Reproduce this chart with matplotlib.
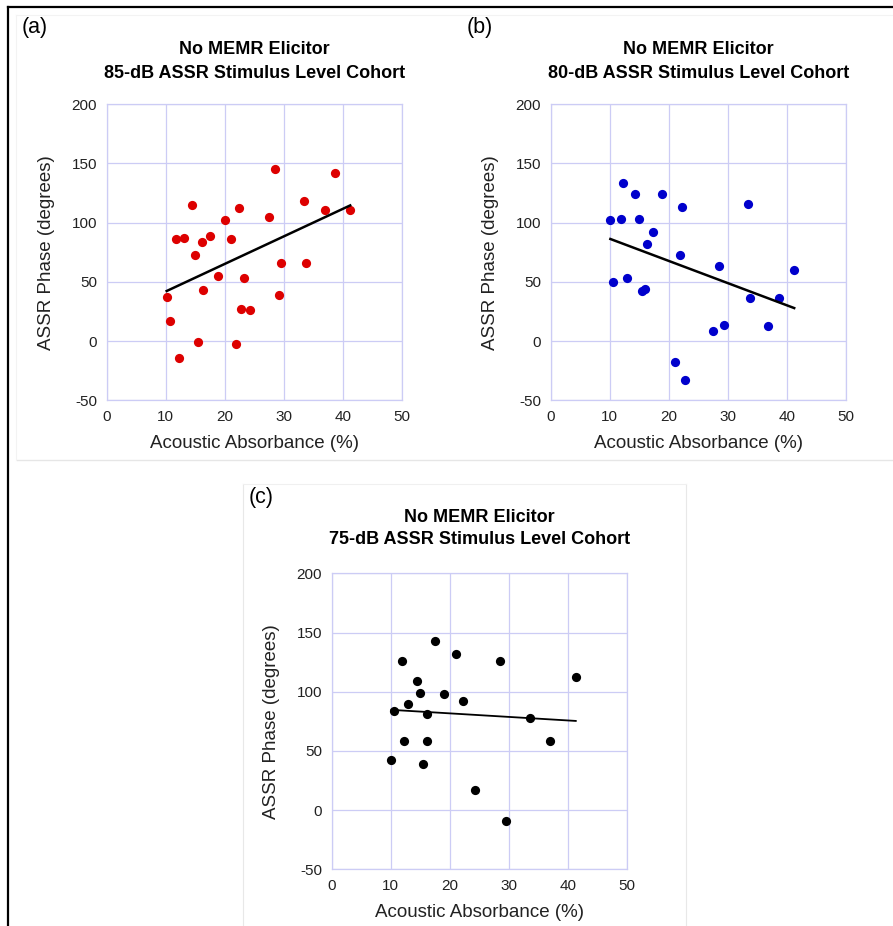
import numpy as np
import matplotlib
matplotlib.use("Agg")
import matplotlib.pyplot as plt
from matplotlib.lines import Line2D

plt.rcParams['font.family'] = ['Liberation Sans', 'DejaVu Sans']
plt.rcParams['axes.unicode_minus'] = False

# Panel (a): 85-dB cohort
a_x = [10.15, 10.65, 12.2, 11.8, 13.0, 14.4, 14.9, 15.4, 16.1, 16.3, 17.4, 18.9, 20.1, 21.1,
       21.8, 22.4, 22.8, 23.2, 24.2, 27.5, 28.5, 29.1, 29.5, 33.4, 33.7, 36.9, 38.6, 41.2]
a_y = [37.2, 17.2, -14.1, 86.2, 87.0, 115.2, 73.0, -0.8, 83.9, 43.1, 89.0, 55.2, 102.0, 86.2,
       -2.8, 112.1, 27.0, 53.2, 25.9, 105.1, 145.1, 39.2, 66.2, 118.3, 66.2, 110.4, 142.0, 110.4]

# Panel (b): 80-dB cohort
b_x = [10.1, 10.6, 12.2, 11.9, 12.9, 14.2, 14.9, 15.4, 16.0, 16.3, 17.3, 18.9, 21.1, 21.8,
       22.3, 22.8, 27.4, 28.4, 29.4, 33.4, 33.7, 36.8, 38.6, 41.2]
b_y = [102.0, 50.1, 133.2, 103.1, 53.2, 124.2, 103.1, 42.0, 44.2, 82.0, 92.1, 124.2, -17.7, 73.0,
       113.0, -32.7, 8.2, 63.1, 13.2, 116.1, 36.3, 12.4, 36.3, 60.3]

# Panel (c): 75-dB cohort
c_x = [10.1, 10.6, 11.9, 12.3, 12.9, 14.4, 14.9, 15.4, 16.1, 16.2, 17.4, 19.0, 21.1, 22.3,
       24.2, 28.5, 29.5, 33.5, 36.9, 41.3]
c_y = [42.0, 83.7, 125.9, 58.6, 89.9, 109.0, 98.9, 38.9, 80.8, 58.6, 142.8, 97.7, 131.5, 91.8,
       16.6, 125.9, -9.6, 77.7, 58.6, 112.1]

x_ticks = [0, 10, 20, 30, 40, 50]
y_ticks = [-50, 0, 50, 100, 150, 200]
title_line1 = "No MEMR Elicitor"
titles_line2 = ["85-dB ASSR Stimulus Level Cohort", "80-dB ASSR Stimulus Level Cohort",
                "75-dB ASSR Stimulus Level Cohort"]
panel_labels = ["(a)", "(b)", "(c)"]
xlabel = "Acoustic Absorbance (%)"
ylabel = "ASSR Phase (degrees)"

W, H = 893, 926
fig = plt.figure(figsize=(W / 100, H / 100), dpi=100)

def fx(px):
    return px / W

def fy(py):
    return 1 - py / H

# Frame lines
fig.add_artist(Line2D([fx(7.5), fx(7.5)], [fy(6.5), fy(926)], color='black', lw=1.6))
fig.add_artist(Line2D([fx(7.5), fx(893)], [fy(6.5), fy(6.5)], color='black', lw=1.6))
fig.add_artist(Line2D([fx(17), fx(893)], [fy(460), fy(460)], color='#e6e6e6', lw=1.0))
fig.add_artist(Line2D([fx(16), fx(893)], [fy(15), fy(15)], color='#f3f3f3', lw=0.8))
fig.add_artist(Line2D([fx(16), fx(16)], [fy(15), fy(460)], color='#f3f3f3', lw=0.8))
fig.add_artist(Line2D([fx(242.5), fx(242.5)], [fy(484), fy(926)], color='#e8e8e8', lw=0.8))
fig.add_artist(Line2D([fx(686), fx(686)], [fy(484), fy(926)], color='#e8e8e8', lw=0.8))
fig.add_artist(Line2D([fx(242.5), fx(686)], [fy(484), fy(484)], color='#f0f0f0', lw=0.8))

grid_color = '#ccccf5'

def make_panel(left, top, xs, ys, color, fit_lw, label, label_xy, t2, title_y):
    right = left + 295.5
    bottom = top + 296
    ax = fig.add_axes([fx(left), fy(bottom), (right - left) / W, (bottom - top) / H])
    ax.set_xlim(0, 50)
    ax.set_ylim(-50, 200)
    ax.set_xticks(x_ticks)
    ax.set_yticks(y_ticks)
    ax.grid(True, color=grid_color, lw=0.9)
    ax.set_axisbelow(True)
    for s in ax.spines.values():
        s.set_color(grid_color)
        s.set_linewidth(0.9)
    ax.tick_params(length=0, labelsize=11, pad=7, colors='#222222')
    ax.scatter(xs, ys, s=44, color=color, zorder=3, linewidths=0)
    xa = np.array(xs)
    ya = np.array(ys)
    k, b = np.polyfit(xa, ya, 1)
    xl = np.array([xa.min(), xa.max()])
    ax.plot(xl, k * xl + b, color='black', lw=fit_lw, zorder=4)
    ax.set_xlabel(xlabel, fontsize=13.5, labelpad=8, color='#222222')
    ax.set_ylabel(ylabel, fontsize=13.5, labelpad=12, color='#222222')
    cx = (left + right) / 2
    fig.text(fx(cx), fy(title_y[0]), title_line1, ha='center', va='center',
             fontsize=13, fontweight='bold')
    fig.text(fx(cx), fy(title_y[1]), t2, ha='center', va='center',
             fontsize=13, fontweight='bold')
    fig.text(fx(label_xy[0]), fy(label_xy[1]), label, ha='left', va='center', fontsize=15.5)
    return ax

make_panel(106.7, 104.3, a_x, a_y, '#dd0000', 1.8, panel_labels[0], (22, 28),
           titles_line2[0], (50, 73))
make_panel(550.7, 104.3, b_x, b_y, '#0000cc', 1.8, panel_labels[1], (467, 28),
           titles_line2[1], (50, 73))
make_panel(331.7, 573.3, c_x, c_y, '#000000', 1.3, panel_labels[2], (249, 497),
           titles_line2[2], (517, 540))

fig.savefig("out.png", dpi=100)
